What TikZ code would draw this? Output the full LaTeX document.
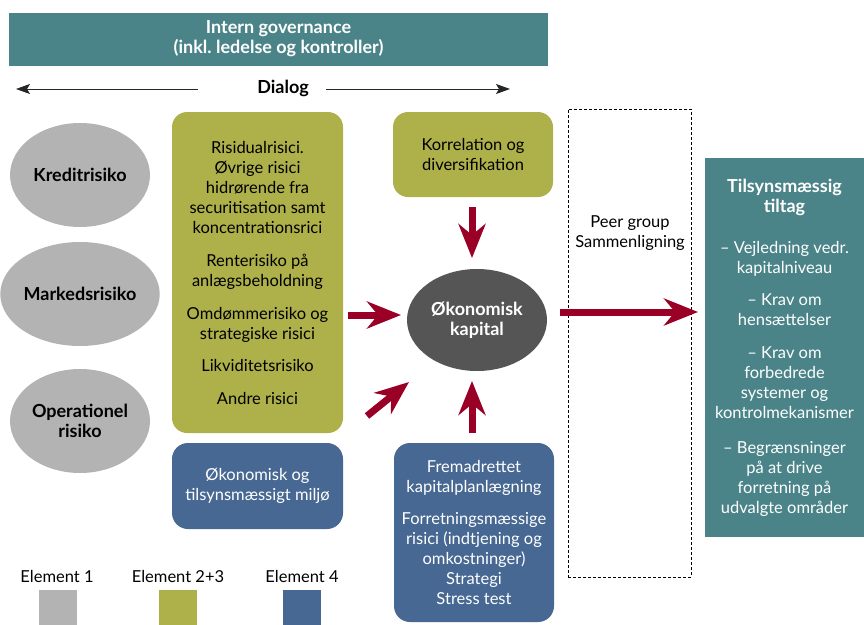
\documentclass[tikz,border=0pt]{standalone}
\usepackage{fontspec}
\setmainfont{Lato}
\usetikzlibrary{arrows.meta,shapes.geometric}

\definecolor{govteal}{HTML}{4A8489}
\definecolor{olive}{HTML}{AEB04A}
\definecolor{steelblue}{HTML}{466892}
\definecolor{riskgray}{HTML}{B3B3B3}
\definecolor{capgray}{HTML}{555555}
\definecolor{crimson}{HTML}{9A0026}

\newcommand{\headfont}{\fontsize{18}{19.5}\selectfont\bfseries}
\newcommand{\bodyfont}{\fontsize{16.5}{20}\selectfont}

\tikzset{
  body/.style={font=\bodyfont, align=center},
  tealbox/.style={fill=govteal, text=white, inner sep=0pt, align=center},
  olivebox/.style={fill=olive, text=black, rounded corners=15pt, inner sep=0pt, body},
  bluebox/.style={fill=steelblue, text=white, rounded corners=16pt, inner sep=0pt, body},
  riskoval/.style={ellipse, fill=riskgray, minimum width=140pt, minimum height=104pt,
    inner sep=0pt, align=center, font=\headfont},
  capoval/.style={ellipse, fill=capgray, text=white, minimum width=140pt, minimum height=102pt,
    inner sep=0pt, align=center, font=\headfont},
  bigarrow/.style={draw=crimson, line width=7pt,
    -{Stealth[length=34pt,width=27pt,inset=11pt,fill=crimson]}},
  dialogarrow/.style={draw=black!85, line width=0.9pt,
    -{Stealth[length=14pt,width=10pt,inset=3pt]}},
  legendsq/.style={fill=#1, minimum width=38pt, minimum height=38pt, inner sep=0pt},
}

\begin{document}
\begin{tikzpicture}[x=1pt,y=-1pt]
\useasboundingbox (0,0) rectangle (864,624);

% governance banner and dialog line
\node[tealbox, minimum width=539pt, minimum height=53pt,
      font=\fontsize{18}{20}\selectfont\bfseries] (gov) at (278.5,39)
  {Intern governance\\(inkl.\ ledelse og kontroller)};
\node[font=\headfont, inner sep=0pt] (dialog) at (283,88) {Dialog};
\coordinate (dlA) at (198,89);
\coordinate (dlB) at (16,89);
\coordinate (drA) at (326,89);
\coordinate (drB) at (510,89);
\draw[dialogarrow] (dlA) -- (dlB);
\draw[dialogarrow] (drA) -- (drB);

% element 1: risk types
\node[riskoval] (kredit) at (80,175) {Kreditrisiko};
\node[riskoval] (marked) at (80,294) {Markedsrisiko};
\node[riskoval] (oprisk) at (80,421) {Operationel\\risiko};

% element 2+3
\node[olivebox, minimum width=171pt, minimum height=321pt] (other) at (257.5,272.5)
  {Risidualrisici.\\Øvrige risici\\hidrørende fra\\securitisation samt\\koncentrationsrici\\[13pt]
   Renterisiko på\\anlægsbeholdning\\[13pt]
   Omdømmerisiko og\\strategiske risici\\[12pt]
   Likviditetsrisiko\\[13pt]
   Andre risici};
\node[olivebox, minimum width=160pt, minimum height=85pt] (korr) at (473,154.5)
  {Korrelation og\\diversifikation};

% element 4
\node[bluebox, minimum width=171pt, minimum height=86pt] (miljo) at (257.5,486)
  {Økonomisk og\\tilsynsmæssigt miljø};
\node[bluebox, minimum width=160pt, minimum height=179pt] (plan) at (474,532.5)
  {Fremadrettet\\kapitalplanlægning\\[12pt]
   Forretningsmæssige\\risici (indtjening og\\omkostninger)\\Strategi\\Stress test};

% economic capital
\node[capoval] (ekap) at (477,320) {Økonomisk\\kapital};

% peer comparison
\node[draw=black, line width=0.8pt, dash pattern=on 3pt off 2pt,
      minimum width=123pt, minimum height=468pt, inner sep=0pt] (peer) at (629.5,343) {};
\node[body] (peertxt) at (630,233.5) {Peer group\\Sammenligning};

% supervisory measures
\node[tealbox, minimum width=159pt, minimum height=379pt,
      font=\bodyfont] (tiltag) at (784.5,347.5)
  {\textbf{\headfont Tilsynsmæssig}\\\textbf{\headfont tiltag}\\[21pt]
   – Vejledning vedr.\\kapitalniveau\\[12pt]
   – Krav om\\hensættelser\\[13pt]
   – Krav om\\forbedrede\\systemer og\\kontrolmekanismer\\[15pt]
   – Begrænsninger\\på at drive\\forretning på\\udvalgte områder};

% flows into and out of economic capital
\coordinate (aKorrS) at (472,207);
\coordinate (aKorrE) at (472,258);
\coordinate (aOthS)  at (348,315);
\coordinate (aOthE)  at (401,315);
\coordinate (aMilS)  at (367,416);
\coordinate (aMilE)  at (409,382);
\coordinate (aPlanS) at (472,433);
\coordinate (aPlanE) at (472,381);
\coordinate (aOutS)  at (560,312);
\coordinate (aOutE)  at (698,312);
\draw[bigarrow] (aKorrS) -- (aKorrE);
\draw[bigarrow] (aOthS) -- (aOthE);
\draw[bigarrow] (aMilS) -- (aMilE);
\draw[bigarrow] (aPlanS) -- (aPlanE);
\draw[bigarrow] (aOutS) -- (aOutE);

% legend
\node[body] (leg1) at (57,576) {Element 1};
\node[body] (leg2) at (178,576) {Element 2+3};
\node[body] (leg4) at (302,576) {Element 4};
\node[legendsq=riskgray, anchor=north] (sq1) at (58,590) {};
\node[legendsq=olive, anchor=north] (sq2) at (178,590) {};
\node[legendsq=steelblue, anchor=north] (sq4) at (302,590) {};
\end{tikzpicture}
\end{document}
